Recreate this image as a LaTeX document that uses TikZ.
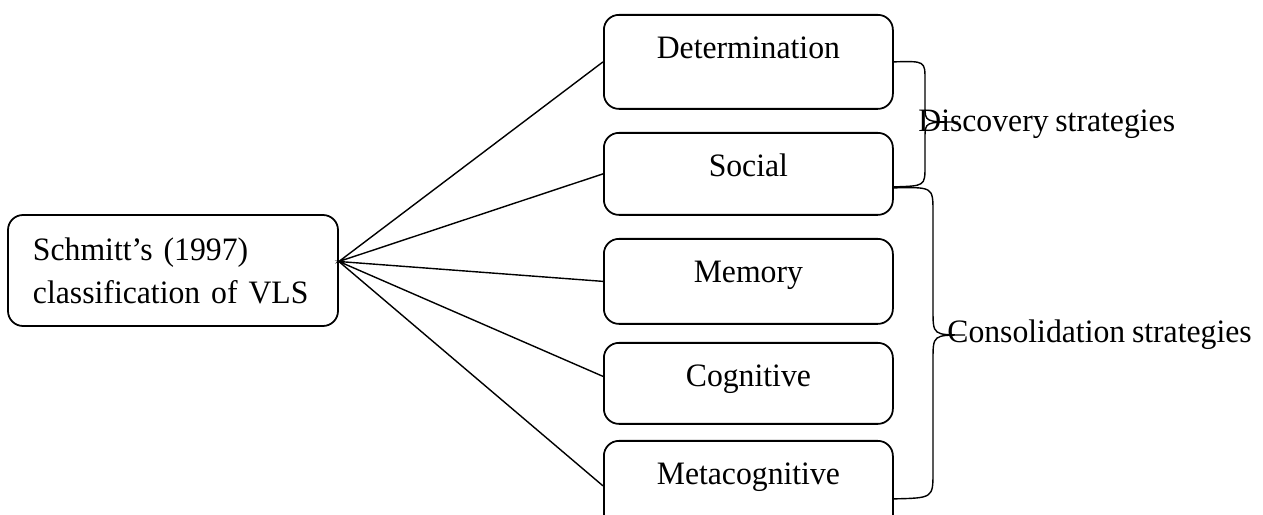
\documentclass[tikz,border=0pt]{standalone}
\usepackage{fontspec}
\setmainfont[FakeStretch=0.97, WordSpace=0.85]{Liberation Serif}
\begin{document}
\begin{tikzpicture}[x=0.2mm, y=-0.2mm]
            \tikzstyle{every node}=[font=\fontsize{18.6}{24.5}\selectfont, text=black]
            \tikzstyle{box}=[draw=black, line width=1pt, rounded corners=3mm, inner sep=0pt, minimum width=57.8mm, text height=8.8mm, anchor=north west]
            \tikzstyle{root}=[draw=black, line width=1pt, rounded corners=3mm, align=left, text width=56mm, inner xsep=5mm, minimum height=22.2mm]
            \tikzstyle{edge}=[black, line width=0.8pt]

            \useasboundingbox (0,0) rectangle (1263,515);

            \node[root] (v) at (173,270.5) {Schmitt’s (1997)\\classification of VLS};

            \node[box, text depth=10mm] (d) at (603,14) {Determination};
            \node[box, text depth=7.6mm] (s) at (603,132) {Social};
            \node[box, text depth=8.2mm] (m) at (603,238) {Memory};
            \node[box, text depth=7.4mm] (c) at (603,342) {Cognitive};
            \node[box, text depth=9.2mm] (mc) at (603,440) {Metacognitive};

            \node[anchor=base west, inner sep=0pt] (ds) at (918,132) {Discovery strategies};
            \node[anchor=base west, inner sep=0pt] (cs) at (947,343) {Consolidation strategies};

            \coordinate (hub) at ([yshift=1.8mm]v.east);
            \draw[edge] (d.west) -- (hub) -- (s.west);
            \draw[edge] (m.west) -- (hub) -- ([yshift=1.4mm]c.west);
            \draw[edge] (hub) -- (mc.west);

            % braces
            \draw[edge] (d.east) .. controls (925,61) .. (925,80) -- (925,106) .. controls (925,122) .. (958,122)
                .. controls (925,122) .. (925,138) -- (925,166) .. controls (925,186) .. ([yshift=-2.6mm]s.east);
            \draw[edge] ([yshift=-2.8mm]s.east) .. controls (933,187) .. (933,212) -- (933,310) .. controls (933,335) .. (965,335)
                .. controls (933,335) .. (933,360) -- (933,472) .. controls (933,498) .. ([yshift=-2.6mm]mc.east);
        \end{tikzpicture}
\end{document}
